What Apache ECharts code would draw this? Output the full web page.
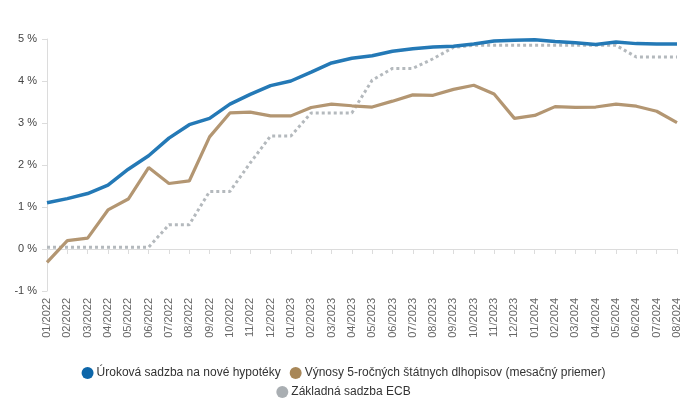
<!DOCTYPE html>
<html>
<head>
<meta charset="utf-8">
<script src="https://cdn.jsdelivr.net/npm/echarts@6/dist/echarts.min.js"></script>
<style>
html,body{margin:0;padding:0;background:#fff;}
#c{width:687px;height:400px;}
</style>
</head>
<body>
<div id="c"></div>
<script>
var categories = ['01/2022','02/2022','03/2022','04/2022','05/2022','06/2022','07/2022','08/2022','09/2022','10/2022','11/2022','12/2022',
  '01/2023','02/2023','03/2023','04/2023','05/2023','06/2023','07/2023','08/2023','09/2023','10/2023','11/2023','12/2023',
  '01/2024','02/2024','03/2024','04/2024','05/2024','06/2024','07/2024','08/2024'];
var mortgageRate = [1.10,1.20,1.32,1.52,1.90,2.22,2.64,2.96,3.11,3.45,3.68,3.89,4.00,4.21,4.43,4.54,4.60,4.71,4.77,4.81,4.83,4.88,4.95,4.97,4.98,4.94,4.91,4.87,4.93,4.89,4.88,4.88];
var bondYield = [-0.32,0.20,0.26,0.93,1.19,1.94,1.56,1.62,2.67,3.24,3.26,3.17,3.17,3.37,3.45,3.41,3.38,3.52,3.67,3.66,3.80,3.90,3.69,3.11,3.18,3.39,3.37,3.38,3.45,3.40,3.28,3.01];
var ecbRate = [0.04,0.04,0.04,0.04,0.04,0.04,0.58,0.58,1.37,1.37,2.05,2.69,2.69,3.24,3.24,3.24,4.02,4.30,4.30,4.53,4.80,4.85,4.85,4.85,4.85,4.85,4.85,4.85,4.85,4.57,4.57,4.57];
var seriesNames = ['Úroková sadzba na nové hypotéky','Výnosy 5-ročných štátnych dlhopisov (mesačný priemer)','Základná sadzba ECB'];
var yTicks = {min:-1, max:5, interval:1};

var font = 'Arial, "Liberation Sans", sans-serif';
var chart = echarts.init(document.getElementById('c'), null, {renderer:'canvas'});
chart.setOption({
  animation:false,
  backgroundColor:'#fff',
  grid:{left:47,right:10,top:39,bottom:109},
  legend:[
    {data:[{name:seriesNames[0],itemStyle:{color:'#0d66a9'}},{name:seriesNames[1],itemStyle:{color:'#a88758'}}],
     left:'center',top:362,icon:'circle',itemWidth:12,itemHeight:12,itemGap:9,
     textStyle:{fontFamily:font,fontSize:12,color:'#333',padding:[0,0,0,-2]}},
    {data:[{name:seriesNames[2],itemStyle:{color:'#a9aeb2'}}],
     left:'center',top:381,icon:'circle',itemWidth:12,itemHeight:12,
     textStyle:{fontFamily:font,fontSize:12,color:'#333',padding:[0,0,0,-2]}}
  ],
  xAxis:{
    type:'category',data:categories,boundaryGap:false,
    axisLine:{lineStyle:{color:'#dcdcdc'}},
    axisTick:{show:true,interval:0,length:5,lineStyle:{color:'#dcdcdc'}},
    axisLabel:{interval:0,rotate:90,margin:7,fontFamily:font,fontSize:11,color:'#666'},
    splitLine:{show:false}
  },
  yAxis:{
    type:'value',min:yTicks.min,max:yTicks.max,interval:yTicks.interval,
    axisLine:{show:true,lineStyle:{color:'#dcdcdc'}},
    axisTick:{show:true,length:5,lineStyle:{color:'#dcdcdc'}},
    axisLabel:{formatter:'{value} %',margin:10,fontFamily:font,fontSize:11,color:'#444'},
    splitLine:{show:false}
  },
  series:[
    {name:seriesNames[0],type:'line',data:mortgageRate,symbol:'none',z:3,
     lineStyle:{color:'#2479b6',width:3.5},itemStyle:{color:'#2479b6'}},
    {name:seriesNames[1],type:'line',data:bondYield,symbol:'none',z:2,
     lineStyle:{color:'#b39672',width:3.2},itemStyle:{color:'#b39672'}},
    {name:seriesNames[2],type:'line',data:ecbRate,symbol:'none',z:1,
     lineStyle:{color:'#b4b9bd',width:3,type:[3,3]},itemStyle:{color:'#b4b9bd'}}
  ]
});
</script>
</body>
</html>
